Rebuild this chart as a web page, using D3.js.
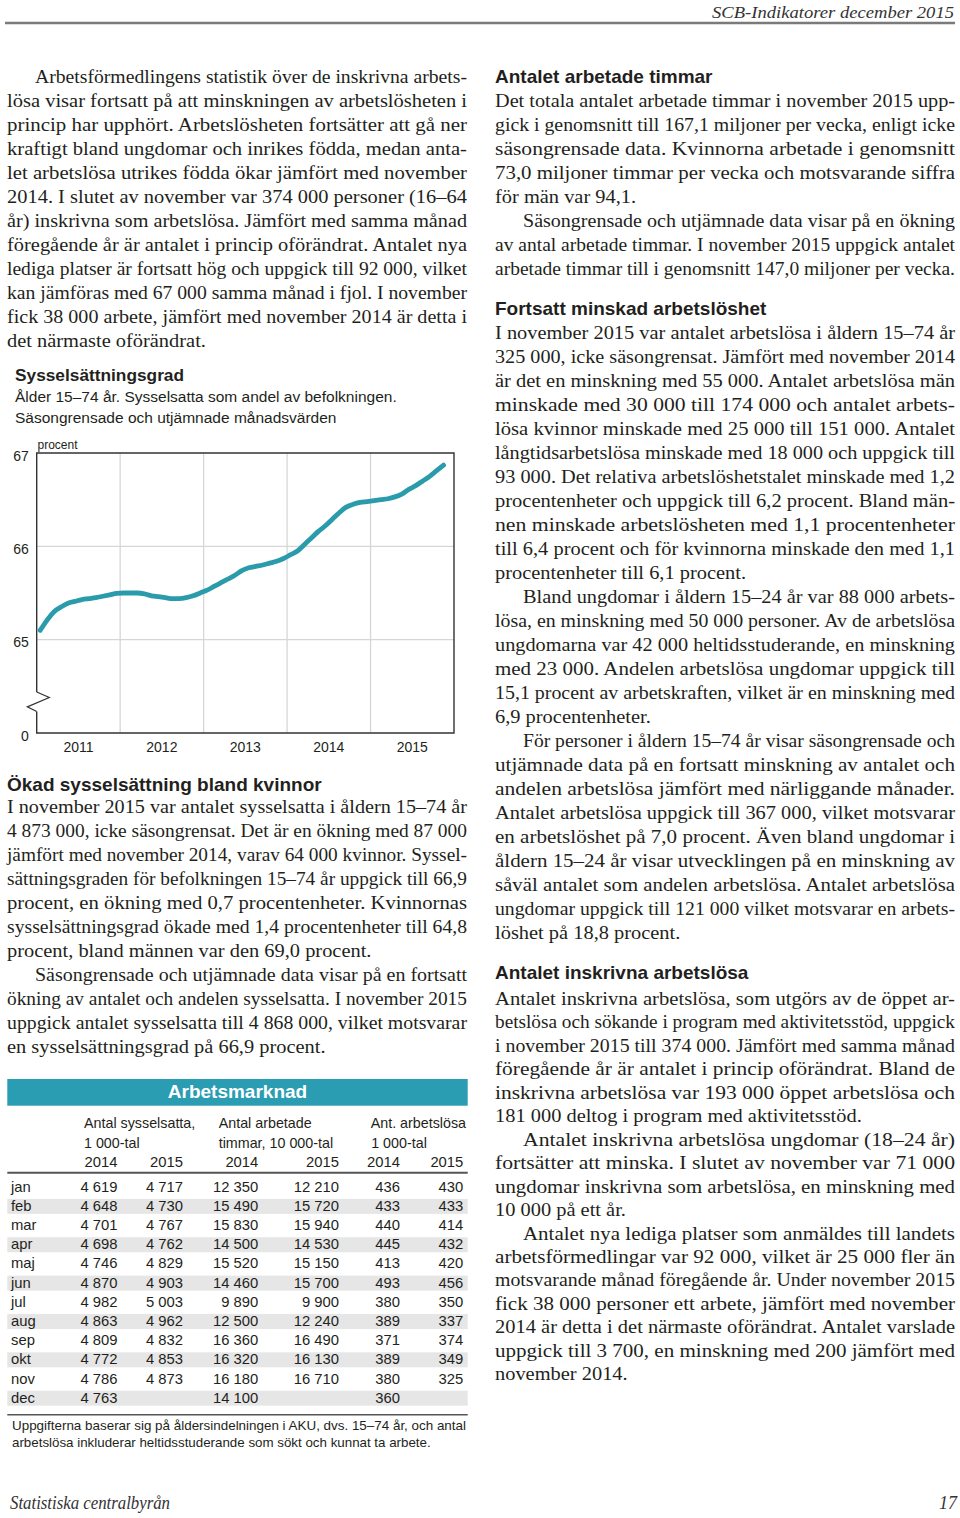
<!DOCTYPE html>
<html><head><meta charset="utf-8">
<script src="https://cdn.jsdelivr.net/npm/d3@7/dist/d3.min.js"></script>
<style>body{margin:0;background:#fff}svg{display:block}</style>
</head><body>
<script>
// ---------------- DATA ----------------
// Sysselsättningsgrad, 15–74 år, säsongrensade och utjämnade månadsvärden (jan 2011 – nov 2015)
const startYear = 2011;
const rate = [
 65.10,65.21,65.30,65.35,65.39,65.41,65.43,65.44,65.45,65.465,65.48,65.495,
 65.50,65.50,65.50,65.49,65.47,65.46,65.45,65.44,65.44,65.45,65.47,65.50,
 65.53,65.57,65.61,65.65,65.69,65.74,65.77,65.785,65.80,65.82,65.84,65.87,
 65.91,65.95,66.02,66.09,66.16,66.22,66.29,66.36,66.42,66.45,66.47,66.48,
 66.49,66.50,66.51,66.53,66.56,66.61,66.65,66.70,66.75,66.81,66.87
];
const yTickValues = [64, 65, 66, 67];
const yTickLabels = ["0", "65", "66", "67"];
const yearLabels = [2011, 2012, 2013, 2014, 2015];

// Tabell Arbetsmarknad
const months = ["jan","feb","mar","apr","maj","jun","jul","aug","sep","okt","nov","dec"];
const emp2014 = [4619,4648,4701,4698,4746,4870,4982,4863,4809,4772,4786,4763];
const emp2015 = [4717,4730,4767,4762,4829,4903,5003,4962,4832,4853,4873,null];
const hours2014 = [12350,15490,15830,14500,15520,14460,9890,12500,16360,16320,16180,14100];
const hours2015 = [12210,15720,15940,14530,15150,15700,9900,12240,16490,16130,16710,null];
const unemp2014 = [436,433,440,445,413,493,380,389,371,389,380,360];
const unemp2015 = [430,433,414,432,420,456,350,337,374,349,325,null];

// ---------------- TEXT ----------------
const leftSections = [
 {head:null, paras:[{indent:true, lines:[
  "Arbetsförmedlingens statistik över de inskrivna arbets-",
  "lösa visar fortsatt på att minskningen av arbetslösheten i",
  "princip har upphört. Arbetslösheten fortsätter att gå ner",
  "kraftigt bland ungdomar och inrikes födda, medan anta-",
  "let arbetslösa utrikes födda ökar jämfört med november",
  "2014. I slutet av november var 374 000 personer (16–64",
  "år) inskrivna som arbetslösa. Jämfört med samma månad",
  "föregående år är antalet i princip oförändrat. Antalet nya",
  "lediga platser är fortsatt hög och uppgick till 92 000, vilket",
  "kan jämföras med 67 000 samma månad i fjol. I november",
  "fick 38 000 arbete, jämfört med november 2014 är detta i",
  "det närmaste oförändrat."]}], y0:83.3, dy:24},
 {head:"Ökad sysselsättning bland kvinnor", headY:791, paras:[
  {indent:false, lines:[
  "I november 2015 var antalet sysselsatta i åldern 15–74 år",
  "4 873 000, icke säsongrensat. Det är en ökning med 87 000",
  "jämfört med november 2014, varav 64 000 kvinnor. Syssel-",
  "sättningsgraden för befolkningen 15–74 år uppgick till 66,9",
  "procent, en ökning med 0,7 procentenheter. Kvinnornas",
  "sysselsättningsgrad ökade med 1,4 procentenheter till 64,8",
  "procent, bland männen var den 69,0 procent."]},
  {indent:true, lines:[
  "Säsongrensade och utjämnade data visar på en fortsatt",
  "ökning av antalet och andelen sysselsatta. I november 2015",
  "uppgick antalet sysselsatta till 4 868 000, vilket motsvarar",
  "en sysselsättningsgrad på 66,9 procent."]}], y0:813.3, dy:24}
];
const rightSections = [
 {head:"Antalet arbetade timmar", headY:82.7, paras:[
  {indent:false, lines:[
  "Det totala antalet arbetade timmar i november 2015 upp-",
  "gick i genomsnitt till 167,1 miljoner per vecka, enligt icke",
  "säsongrensade data. Kvinnorna arbetade i genomsnitt",
  "73,0 miljoner timmar per vecka och motsvarande siffra",
  "för män var 94,1."]},
  {indent:true, full:true, lines:[
  "Säsongrensade och utjämnade data visar på en ökning",
  "av antal arbetade timmar. I november 2015 uppgick antalet",
  "arbetade timmar till i genomsnitt 147,0 miljoner per vecka."]}], y0:106.7, dy:24},
 {head:"Fortsatt minskad arbetslöshet", headY:315, paras:[
  {indent:false, lines:[
  "I november 2015 var antalet arbetslösa i åldern 15–74 år",
  "325 000, icke säsongrensat. Jämfört med november 2014",
  "är det en minskning med 55 000. Antalet arbetslösa män",
  "minskade med 30 000 till 174 000 och antalet arbets-",
  "lösa kvinnor minskade med 25 000 till 151 000. Antalet",
  "långtidsarbetslösa minskade med 18 000 och uppgick till",
  "93 000. Det relativa arbetslöshetstalet minskade med 1,2",
  "procentenheter och uppgick till 6,2 procent. Bland män-",
  "nen minskade arbetslösheten med 1,1 procentenheter",
  "till 6,4 procent och för kvinnorna minskade den med 1,1",
  "procentenheter till 6,1 procent."]},
  {indent:true, lines:[
  "Bland ungdomar i åldern 15–24 år var 88 000 arbets-",
  "lösa, en minskning med 50 000 personer. Av de arbetslösa",
  "ungdomarna var 42 000 heltidsstuderande, en minskning",
  "med 23 000. Andelen arbetslösa ungdomar uppgick till",
  "15,1 procent av arbetskraften, vilket är en minskning med",
  "6,9 procentenheter."]},
  {indent:true, lines:[
  "För personer i åldern 15–74 år visar säsongrensade och",
  "utjämnade data på en fortsatt minskning av antalet och",
  "andelen arbetslösa jämfört med närliggande månader.",
  "Antalet arbetslösa uppgick till 367 000, vilket motsvarar",
  "en arbetslöshet på 7,0 procent. Även bland ungdomar i",
  "åldern 15–24 år visar utvecklingen på en minskning av",
  "såväl antalet som andelen arbetslösa. Antalet arbetslösa",
  "ungdomar uppgick till 121 000 vilket motsvarar en arbets-",
  "löshet på 18,8 procent."]}], y0:339.3, dy:24},
 {head:"Antalet inskrivna arbetslösa", headY:979.3, paras:[
  {indent:false, lines:[
  "Antalet inskrivna arbetslösa, som utgörs av de öppet ar-",
  "betslösa och sökande i program med aktivitetsstöd, uppgick",
  "i november 2015 till 374 000. Jämfört med samma månad",
  "föregående år är antalet i princip oförändrat. Bland de",
  "inskrivna arbetslösa var 193 000 öppet arbetslösa och",
  "181 000 deltog i program med aktivitetsstöd."]},
  {indent:true, lines:[
  "Antalet inskrivna arbetslösa ungdomar (18–24 år)",
  "fortsätter att minska. I slutet av november var 71 000",
  "ungdomar inskrivna som arbetslösa, en minskning med",
  "10 000 på ett år."]},
  {indent:true, lines:[
  "Antalet nya lediga platser som anmäldes till landets",
  "arbetsförmedlingar var 92 000, vilket är 25 000 fler än",
  "motsvarande månad föregående år. Under november 2015",
  "fick 38 000 personer ett arbete, jämfört med november",
  "2014 är detta i det närmaste oförändrat. Antalet varslade",
  "uppgick till 3 700, en minskning med 200 jämfört med",
  "november 2014."]}], y0:1005, dy:23.45}
];

// ---------------- DRAW ----------------
const W = 960, H = 1518;
const ink = "#231f20";
const teal = "#2a9bab";
const sans = "'Liberation Sans', Arial, Helvetica, sans-serif";
const serif = "'Liberation Serif', 'Times New Roman', serif";

const svg = d3.select("body").append("svg").attr("width", W).attr("height", H)
  .attr("viewBox", `0 0 ${W} ${H}`);
svg.append("rect").attr("width", W).attr("height", H).attr("fill", "#fff");

// running header / footer
svg.append("line").attr("x1", 5).attr("x2", 955).attr("y1", 23).attr("y2", 23)
  .attr("stroke", "#7a7a7a").attr("stroke-width", 2.5);
svg.append("text").attr("x", 954).attr("y", 18).attr("text-anchor", "end")
  .attr("font-family", serif).attr("font-style", "italic").attr("font-size", 17.5)
  .attr("fill", "#333").attr("textLength", 242).attr("lengthAdjust", "spacingAndGlyphs")
  .text("SCB-Indikatorer december 2015");
svg.append("text").attr("x", 10).attr("y", 1509)
  .attr("font-family", serif).attr("font-style", "italic").attr("font-size", 18)
  .attr("fill", "#333").attr("textLength", 160).attr("lengthAdjust", "spacingAndGlyphs")
  .text("Statistiska centralbyrån");
svg.append("text").attr("x", 957).attr("y", 1509).attr("text-anchor", "end")
  .attr("font-family", serif).attr("font-style", "italic").attr("font-size", 18)
  .attr("fill", "#333").text("17");

// body text
const bodySize = 19.5;
const allLines = [];
function drawSections(sections, x0, width) {
  const g = svg.append("g");
  sections.forEach(sec => {
    if (sec.head) {
      g.append("text").attr("x", x0).attr("y", sec.headY)
        .attr("font-family", sans).attr("font-weight", "bold").attr("font-size", 19)
        .attr("fill", ink).text(sec.head);
    }
    let k = 0;
    sec.paras.forEach(p => {
      p.lines.forEach((ln, i) => {
        const ind = (p.indent && i === 0) ? 28 : 0;
        const last = i === p.lines.length - 1 && !p.full;
        const t = g.append("text").attr("x", x0 + ind).attr("y", sec.y0 + k * sec.dy)
          .attr("font-family", serif).attr("font-size", bodySize).attr("fill", ink)
          .attr("xml:space", "preserve").text(ln);
        allLines.push({node: t, target: width - ind, last});
        k++;
      });
    });
  });
}
drawSections(leftSections, 7, 460);
drawSections(rightSections, 495, 460);
const ratios = [];
allLines.forEach(l => { l.nat = l.node.node().getComputedTextLength(); if (!l.last) ratios.push(l.target / l.nat); });
const r = d3.median(ratios);
allLines.forEach(l => {
  const len = l.last ? Math.min(l.nat * r, l.target) : l.target;
  l.node.attr("textLength", len).attr("lengthAdjust", "spacingAndGlyphs");
});

// ---------------- CHART ----------------
const cg = svg.append("g");
cg.append("text").attr("x", 15).attr("y", 381).attr("font-family", sans)
  .attr("font-weight", "bold").attr("font-size", 17.3).attr("fill", ink).text("Sysselsättningsgrad");
cg.append("text").attr("x", 15).attr("y", 402).attr("font-family", sans)
  .attr("font-size", 15.5).attr("fill", ink).text("Ålder 15–74 år. Sysselsatta som andel av befolkningen.");
cg.append("text").attr("x", 15).attr("y", 423).attr("font-family", sans)
  .attr("font-size", 15.5).attr("fill", ink).text("Säsongrensade och utjämnade månadsvärden");

const x = d3.scaleLinear().domain([startYear, startYear + 5]).range([36.7, 454]);
const y = d3.scaleLinear().domain([64, 67]).range([733, 453]);

// grid
cg.append("g").selectAll("line").data(yearLabels.slice(1)).join("line")
  .attr("x1", d => x(d)).attr("x2", d => x(d)).attr("y1", y(67)).attr("y2", y(64))
  .attr("stroke", "#d6d6d6").attr("stroke-width", 1.3);
cg.append("g").selectAll("line").data([65, 66]).join("line")
  .attr("x1", x(startYear)).attr("x2", x(startYear + 5)).attr("y1", d => y(d)).attr("y2", d => y(d))
  .attr("stroke", "#d6d6d6").attr("stroke-width", 1.3);

// frame with broken left axis
const x0 = x(startYear), x1 = x(startYear + 5);
const frame = d3.path();
frame.moveTo(x0, y(64.44)); frame.lineTo(x0, y(67)); frame.lineTo(x1, y(67));
frame.lineTo(x1, y(64)); frame.lineTo(x0, y(64)); frame.lineTo(x0, y(64.23));
cg.append("path").attr("d", frame.toString()).attr("fill", "none")
  .attr("stroke", "#333").attr("stroke-width", 1.4);
const zig = d3.path();
zig.moveTo(x0, y(64.44)); zig.lineTo(x0 + 12.6, y(64.38)); zig.lineTo(x0 - 9.4, y(64.28)); zig.lineTo(x0, y(64.23));
cg.append("path").attr("d", zig.toString()).attr("fill", "none")
  .attr("stroke", "#333").attr("stroke-width", 1.2);

// y tick labels
cg.append("g").selectAll("text").data(yTickValues).join("text")
  .attr("x", 28.8).attr("y", d => y(d) + 7.5).attr("text-anchor", "end")
  .attr("font-family", sans).attr("font-size", 14).attr("fill", ink)
  .text((d, i) => yTickLabels[i]);
cg.append("text").attr("x", 37.5).attr("y", 448.5).attr("font-family", sans)
  .attr("font-size", 12).attr("fill", ink).text("procent");

// x labels
cg.append("g").selectAll("text").data(yearLabels).join("text")
  .attr("x", d => x(d + 0.5)).attr("y", 752).attr("text-anchor", "middle")
  .attr("font-family", sans).attr("font-size", 14).attr("fill", ink).text(d => d);

// line
const line = d3.line()
  .x((d, i) => x(startYear + (i + 0.5) / 12))
  .y(d => y(d))
  .curve(d3.curveMonotoneX);
cg.append("path").datum(rate).attr("d", line).attr("fill", "none")
  .attr("stroke", teal).attr("stroke-width", 4.8).attr("stroke-linecap", "round")
  .attr("stroke-linejoin", "round");

// ---------------- TABLE ----------------
const tg = svg.append("g").attr("font-family", sans).attr("fill", ink);
const tL = 7.3, tR = 467.7;
tg.append("rect").attr("x", tL).attr("y", 1079).attr("width", tR - tL).attr("height", 26.7).attr("fill", "#2a9db2");
tg.append("text").attr("x", (tL + tR) / 2).attr("y", 1098).attr("text-anchor", "middle")
  .attr("font-weight", "bold").attr("font-size", 19).attr("fill", "#fff").text("Arbetsmarknad");

const fs = 14.8;
const headRows = [
  [{x:84, t:"Antal sysselsatta,"}, {x:218.7, t:"Antal arbetade"}, {x:370.7, t:"Ant. arbetslösa"}],
  [{x:84, t:"1 000-tal"}, {x:218.7, t:"timmar, 10 000-tal"}, {x:371.2, t:"1 000-tal"}]
];
headRows.forEach((row, ri) => row.forEach(c => {
  tg.append("text").attr("x", c.x).attr("y", 1128.3 + ri * 19.4).attr("font-size", 14.3)
    .attr("xml:space", "preserve").text(c.t);
}));
const colRight = [117.5, 183, 258.3, 339, 400, 463.3];
const colYears = [2014, 2015, 2014, 2015, 2014, 2015];
tg.append("g").selectAll("text").data(colYears).join("text")
  .attr("x", (d, i) => colRight[i]).attr("y", 1166.7).attr("text-anchor", "end")
  .attr("font-size", fs).text(d => d);
tg.append("line").attr("x1", tL).attr("x2", tR).attr("y1", 1172.8).attr("y2", 1172.8)
  .attr("stroke", "#555").attr("stroke-width", 2);

const rowY = i => 1191.7 + i * 19.18;
tg.append("g").selectAll("rect").data(months.map((m, i) => i).filter(i => i % 2 === 1)).join("rect")
  .attr("x", tL).attr("width", tR - tL).attr("y", i => rowY(i) - 12).attr("height", 15)
  .attr("fill", "#e6e6e6");
const loc = d3.formatLocale({decimal: ",", thousands: "\u00a0", grouping: [3], currency: ["", ""]});
const fmt = loc.format(",d");
tg.append("g").selectAll("text").data(months).join("text")
  .attr("x", 11).attr("y", (d, i) => rowY(i)).attr("font-size", fs).text(d => d);
const cols = [emp2014, emp2015, hours2014, hours2015, unemp2014, unemp2015];
cols.forEach((col, ci) => {
  tg.append("g").selectAll("text").data(col.map((v, i) => ({v, i})).filter(d => d.v != null)).join("text")
    .attr("x", colRight[ci]).attr("y", d => rowY(d.i)).attr("text-anchor", "end")
    .attr("font-size", fs).text(d => fmt(d.v));
});
tg.append("line").attr("x1", tL).attr("x2", tR).attr("y1", 1414.7).attr("y2", 1414.7)
  .attr("stroke", "#555").attr("stroke-width", 1.5);
tg.append("text").attr("x", 12).attr("y", 1430).attr("font-size", 12.8)
  .attr("textLength", 454).attr("lengthAdjust", "spacingAndGlyphs")
  .text("Uppgifterna baserar sig på åldersindelningen i AKU, dvs. 15–74 år, och antal");
tg.append("text").attr("x", 12).attr("y", 1447.3).attr("font-size", 12.8)
  .attr("textLength", 418.7).attr("lengthAdjust", "spacingAndGlyphs")
  .text("arbetslösa inkluderar heltidsstuderande som sökt och kunnat ta arbete.");
</script>
</body></html>
